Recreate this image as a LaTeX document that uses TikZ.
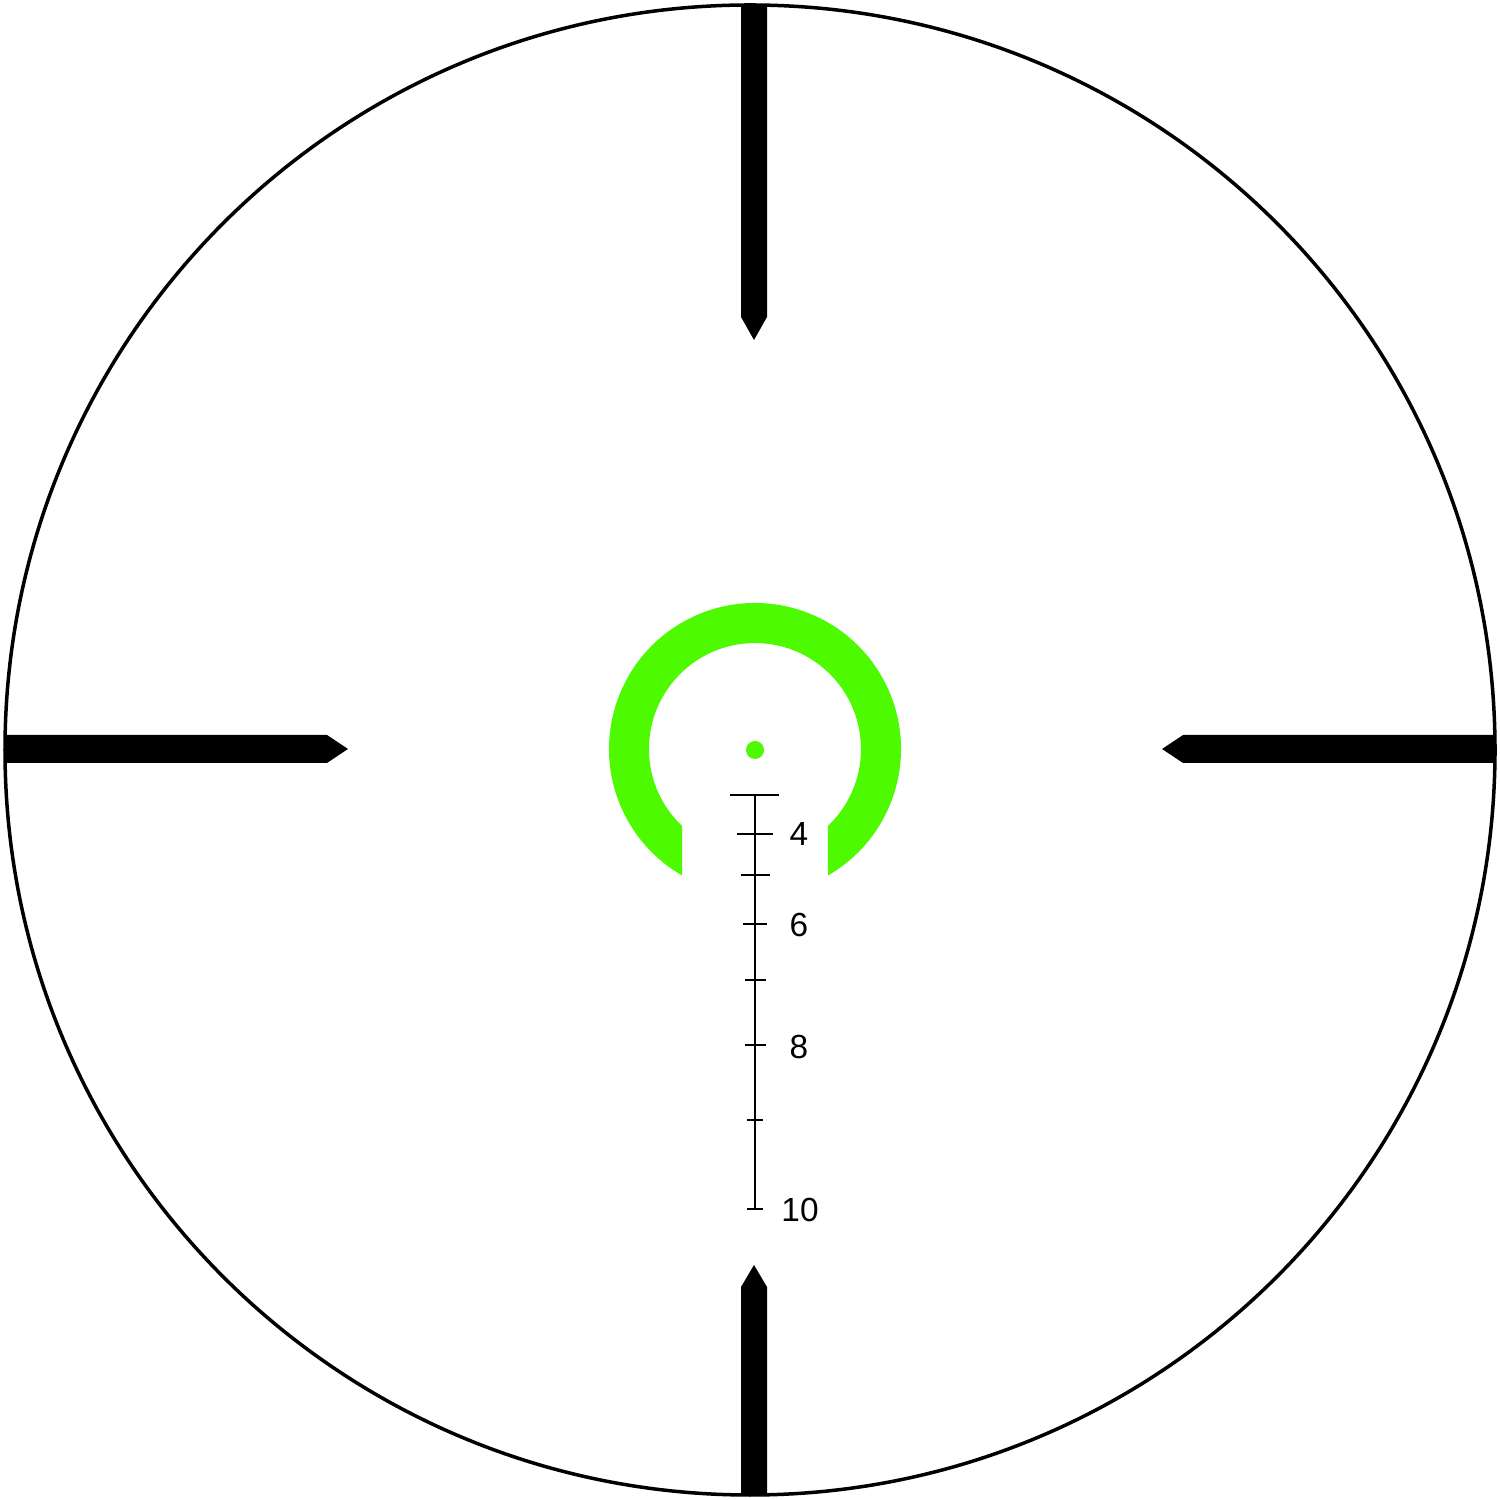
\documentclass[tikz,border=0pt]{standalone}
\usepackage{fontspec}
\setmainfont{Liberation Sans}
\definecolor{dotgreen}{RGB}{77,250,0}

\begin{document}
\begin{tikzpicture}[x=0.01cm, y=0.01cm,
    post/.style={fill=black},
    rim/.style={draw=black, line width=0.35mm},
    ladder/.style={draw=black, line width=0.23mm},
    rangelabel/.style={font=\fontsize{9.5}{11}\selectfont}]
  \useasboundingbox (0,0) rectangle (1500,1500);
  \fill[white] (0,0) rectangle (1500,1500);
  \coordinate (c) at (750,750);
  \coordinate (aim) at (755,751);
  % outer circle
  \draw[rim] (c) circle[radius=745];
  % posts
  \fill[post] (741,1495) -- (741,1183) -- (754,1160) -- (767,1183) -- (767,1495) -- cycle;
  \fill[post] (741,4) -- (741,213) -- (754,235) -- (767,213) -- (767,4) -- cycle;
  \fill[post] (6,765) -- (327,765) -- (348,751) -- (327,737) -- (6,737) -- cycle;
  \fill[post] (1494,765) -- (1183,765) -- (1162,751) -- (1183,737) -- (1494,737) -- cycle;
  % horseshoe and dot
  \fill[dotgreen] (aim) ++(-60:146) arc[start angle=-60, end angle=240, radius=146]
    -- ++(0,49.5) arc[start angle=226.5, end angle=-46.5, radius=106] -- cycle;
  \fill[dotgreen] (aim) ++(0,-1) circle[radius=9];
  % drop ladder
  \draw[ladder] (755,705) -- (755,291);
  \draw[ladder] (730,705) -- (779,705);
  \foreach \y/\w in {666/18, 625/14.5, 576/12, 520/10.5, 455/10.5, 380/8, 291/8}
    \draw[ladder] (755-\w,\y) -- (755+\w,\y);
  \node[rangelabel] (r4) at (799,666) {4};
  \node[rangelabel] (r6) at (799,575) {6};
  \node[rangelabel] (r8) at (799,453) {8};
  \node[rangelabel] (r10) at (800,290) {10};
\end{tikzpicture}
\end{document}
